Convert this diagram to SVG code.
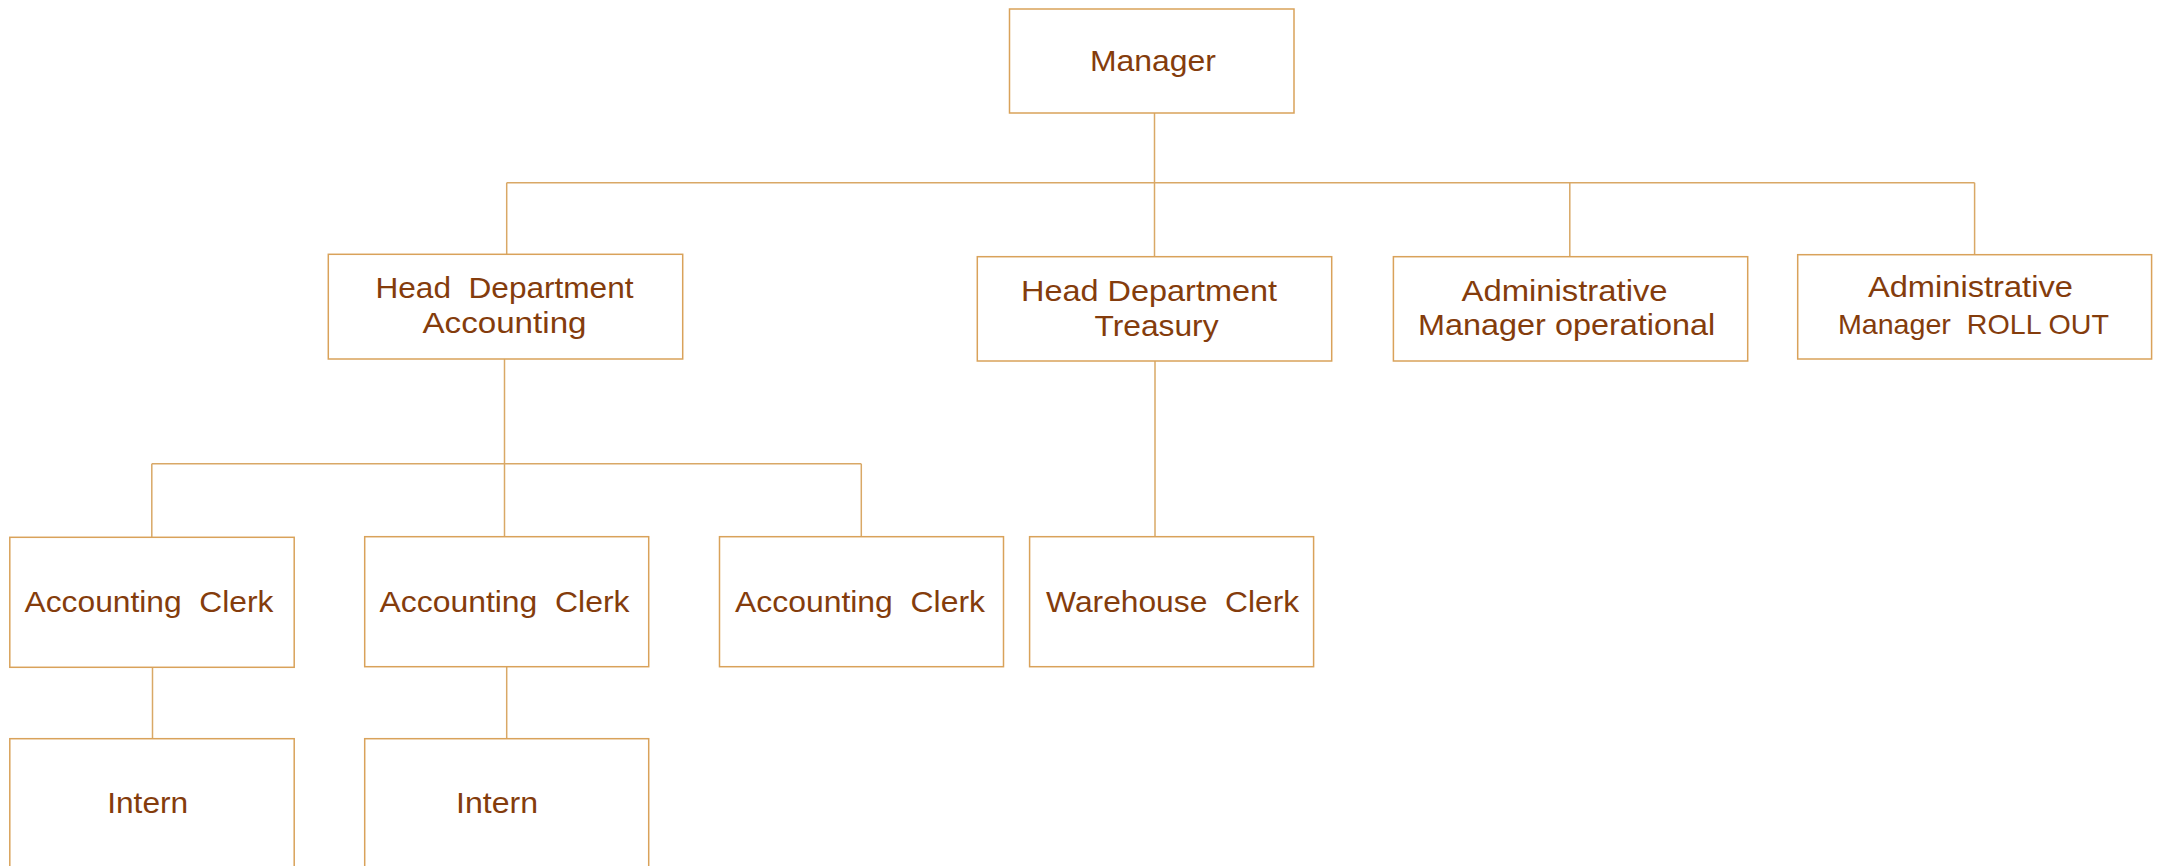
<svg xmlns="http://www.w3.org/2000/svg" width="2157" height="866" viewBox="0 0 2157 866">
<style>
.box{fill:#FFFFFF;stroke:#D9A25A;stroke-width:1.5}
.ln{stroke:#D9A866;stroke-width:1.5;fill:none}
.t{font-family:"Liberation Sans",Arial,sans-serif;font-size:30px;fill:#843C0C;text-anchor:middle}
.s{font-size:28px}
</style>
<rect width="2157" height="866" fill="#FFFFFF"/>
<g id="connectors">
<path class="ln" d="M1154.5 113V256.7"/>
<path class="ln" d="M506.7 182.7H1974.6"/>
<path class="ln" d="M506.7 182.7V254.3"/>
<path class="ln" d="M1569.8 182.7V256.7"/>
<path class="ln" d="M1974.6 182.7V254.7"/>
<path class="ln" d="M504.5 359V536.7"/>
<path class="ln" d="M151.8 463.8H861.3"/>
<path class="ln" d="M151.8 463.8V537.3"/>
<path class="ln" d="M861.3 463.8V536.7"/>
<path class="ln" d="M1155 361V536.7"/>
<path class="ln" d="M152.5 667.3V738.7"/>
<path class="ln" d="M506.7 666.7V738.7"/>
</g>
<g id="manager">
<rect class="box" x="1009.5" y="9" width="284.5" height="104"/>
<text class="t" x="1153" y="70.7" textLength="126" lengthAdjust="spacingAndGlyphs">Manager</text>
</g>
<g id="head-accounting">
<rect class="box" x="328.3" y="254.3" width="354.4" height="104.7"/>
<text class="t" x="504.5" y="297.7" textLength="258" lengthAdjust="spacingAndGlyphs" xml:space="preserve">Head  Department</text>
<text class="t" x="504.5" y="333.3" textLength="164" lengthAdjust="spacingAndGlyphs">Accounting</text>
</g>
<g id="head-treasury">
<rect class="box" x="977.3" y="256.7" width="354.4" height="104.3"/>
<text class="t" x="1149" y="301" textLength="256" lengthAdjust="spacingAndGlyphs">Head Department</text>
<text class="t" x="1156.5" y="336" textLength="124" lengthAdjust="spacingAndGlyphs">Treasury</text>
</g>
<g id="admin-operational">
<rect class="box" x="1393.4" y="256.7" width="354.3" height="104.3"/>
<text class="t" x="1564.6" y="301" textLength="206" lengthAdjust="spacingAndGlyphs">Administrative</text>
<text class="t" x="1566.6" y="335" textLength="297" lengthAdjust="spacingAndGlyphs">Manager operational</text>
</g>
<g id="admin-rollout">
<rect class="box" x="1797.7" y="254.7" width="353.9" height="104.3"/>
<text class="t" x="1970.4" y="297.3" textLength="205" lengthAdjust="spacingAndGlyphs">Administrative</text>
<text class="t s" x="1973.4" y="334" textLength="271" lengthAdjust="spacingAndGlyphs" xml:space="preserve">Manager  ROLL OUT</text>
</g>
<g id="clerk-1">
<rect class="box" x="9.8" y="537.3" width="284.4" height="130"/>
<text class="t" x="149" y="612.3" textLength="249" lengthAdjust="spacingAndGlyphs" xml:space="preserve">Accounting  Clerk</text>
</g>
<g id="clerk-2">
<rect class="box" x="364.7" y="536.7" width="284" height="130"/>
<text class="t" x="504.5" y="612.3" textLength="250" lengthAdjust="spacingAndGlyphs" xml:space="preserve">Accounting  Clerk</text>
</g>
<g id="clerk-3">
<rect class="box" x="719.5" y="536.7" width="284" height="130"/>
<text class="t" x="860" y="612.3" textLength="250" lengthAdjust="spacingAndGlyphs" xml:space="preserve">Accounting  Clerk</text>
</g>
<g id="warehouse-clerk">
<rect class="box" x="1029.6" y="536.7" width="284" height="130"/>
<text class="t" x="1172.6" y="612.3" textLength="253" lengthAdjust="spacingAndGlyphs" xml:space="preserve">Warehouse  Clerk</text>
</g>
<g id="intern-1">
<rect class="box" x="9.8" y="738.7" width="284.4" height="150"/>
<text class="t" x="147.7" y="812.7" textLength="81" lengthAdjust="spacingAndGlyphs">Intern</text>
</g>
<g id="intern-2">
<rect class="box" x="364.7" y="738.7" width="284" height="150"/>
<text class="t" x="497" y="812.7" textLength="82" lengthAdjust="spacingAndGlyphs">Intern</text>
</g>
</svg>
